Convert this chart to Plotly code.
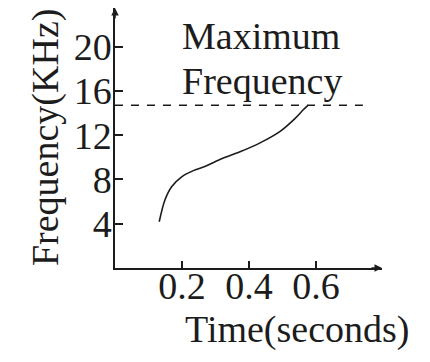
import plotly.graph_objects as go

# Data
time_s = [0.132, 0.149, 0.169, 0.199, 0.234, 0.264, 0.313, 0.373, 0.433, 0.493, 0.537, 0.562, 0.576]
freq_khz = [4.18, 6.14, 7.34, 8.24, 8.80, 9.12, 9.81, 10.50, 11.31, 12.35, 13.50, 14.30, 14.70]
max_freq = 14.7
max_line_t = [0.0, 0.74]
max_line_f = [max_freq, max_freq]
x_ticks = [0.2, 0.4, 0.6]
x_tick_labels = ["0.2", "0.4", "0.6"]
y_ticks = [4, 8, 12, 16, 20]
y_tick_labels = ["4", "8", "12", "16", "20"]

INK = "#1c1c1c"
FONT = "Liberation Serif, Tinos, Times New Roman, DejaVu Serif, serif"
FS = 38

fig = go.Figure()
fig.add_trace(go.Scatter(x=max_line_t, y=max_line_f, mode="lines",
                         line=dict(color=INK, width=1.5, dash="8px,8px"),
                         hoverinfo="skip", showlegend=False))
fig.add_trace(go.Scatter(x=time_s, y=freq_khz, mode="lines",
                         line=dict(color=INK, width=1.6, shape="spline", smoothing=0.9),
                         showlegend=False))

fig.update_layout(
    width=430, height=362,
    margin=dict(l=115, r=48, t=8, b=94),
    paper_bgcolor="white", plot_bgcolor="white",
    font=dict(family=FONT, size=FS, color=INK),
    xaxis=dict(range=[0, 0.797], tickvals=x_ticks, ticktext=x_tick_labels,
               showgrid=False, zeroline=False, showline=True, linecolor=INK, linewidth=1.5,
               ticks="inside", ticklen=7, tickwidth=1.5, tickcolor=INK,
               ticklabelstandoff=-16,
               tickfont=dict(family=FONT, size=FS, color=INK)),
    yaxis=dict(range=[0, 23.5], tickvals=y_ticks, ticktext=y_tick_labels,
               showgrid=False, zeroline=False, showline=True, linecolor=INK, linewidth=1.5,
               ticks="inside", ticklen=8, tickwidth=1.5, tickcolor=INK,
               ticklabelstandoff=-6,
               tickfont=dict(family=FONT, size=FS, color=INK)),
)

# axis arrowheads
fig.add_annotation(x=1, y=0, xref="paper", yref="paper", ax=-12, ay=0, text="",
                   showarrow=True, arrowhead=2, arrowsize=1, arrowwidth=1.5, arrowcolor=INK, standoff=0)
fig.add_annotation(x=0, y=1, xref="paper", yref="paper", ax=0, ay=12, text="",
                   showarrow=True, arrowhead=2, arrowsize=1, arrowwidth=1.5, arrowcolor=INK, standoff=0)

# label text
fig.add_annotation(x=0.195, y=20.95, xref="x", yref="y", text="Maximum", showarrow=False,
                   xanchor="left", yanchor="middle", font=dict(family=FONT, size=FS, color=INK))
fig.add_annotation(x=0.195, y=16.9, xref="x", yref="y", text="Frequency", showarrow=False,
                   xanchor="left", yanchor="middle", font=dict(family=FONT, size=FS, color=INK))

# axis titles
fig.add_annotation(x=0.68, y=-0.235, xref="paper", yref="paper", text="Time(seconds)",
                   showarrow=False, xanchor="center", yanchor="middle",
                   font=dict(family=FONT, size=FS, color=INK))
fig.add_annotation(x=-0.262, y=0.50, xref="paper", yref="paper", text="Frequency(KHz)",
                   showarrow=False, xanchor="center", yanchor="middle", textangle=-90,
                   font=dict(family=FONT, size=FS, color=INK))

fig.write_html("out.html", config={"displayModeBar": False},
               post_script="document.body.style.margin='0';")
